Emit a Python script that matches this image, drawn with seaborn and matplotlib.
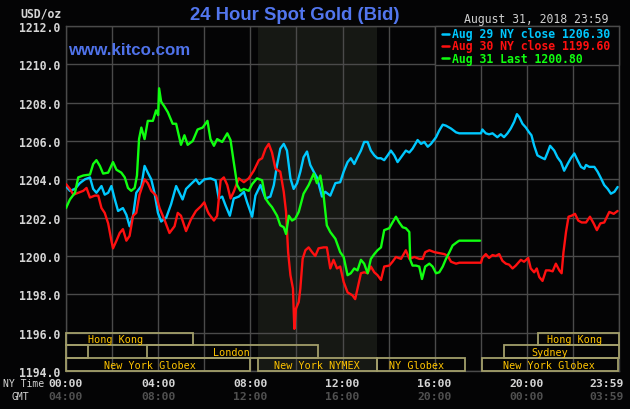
import numpy as np
import pandas as pd
import matplotlib
matplotlib.use("Agg")
import matplotlib.pyplot as plt
import seaborn as sns
from matplotlib.patches import Rectangle
from matplotlib.lines import Line2D
from matplotlib.transforms import blended_transform_factory

# ---------------- data (NY time in hours, price USD/oz) ----------------
aug29 = [
    (0.00, 1203.65), (0.17, 1203.4), (0.39, 1203.5), (0.60, 1203.8), (0.82, 1204.0),
    (1.04, 1204.1), (1.18, 1203.5), (1.32, 1203.3), (1.54, 1203.65), (1.68, 1203.2),
    (1.83, 1203.3), (1.97, 1203.65), (2.12, 1202.95), (2.26, 1202.35), (2.47, 1202.5),
    (2.62, 1202.15), (2.76, 1201.55), (2.91, 1202.1), (3.05, 1203.3), (3.27, 1203.65),
    (3.41, 1204.7), (3.55, 1204.35), (3.70, 1204.0), (3.84, 1203.3), (3.99, 1202.25),
    (4.13, 1201.8), (4.35, 1202.0), (4.56, 1202.7), (4.78, 1203.65), (4.92, 1203.3),
    (5.06, 1202.95), (5.21, 1203.5), (5.42, 1203.75), (5.64, 1204.0), (5.78, 1203.75),
    (6.00, 1204.0), (6.27, 1204.05), (6.49, 1203.95), (6.63, 1203.0), (6.78, 1203.1),
    (6.92, 1202.65), (7.11, 1202.1), (7.28, 1203.0), (7.50, 1203.1), (7.72, 1203.35),
    (7.86, 1202.8), (8.08, 1202.05), (8.22, 1203.15), (8.44, 1203.7), (8.66, 1203.0),
    (8.87, 1203.1), (9.02, 1203.7), (9.16, 1204.75), (9.30, 1205.6), (9.45, 1205.85),
    (9.59, 1205.5), (9.74, 1204.05), (9.88, 1203.5), (10.03, 1203.8), (10.17, 1204.4),
    (10.31, 1205.15), (10.46, 1205.45), (10.60, 1204.75), (10.75, 1204.4), (10.89, 1204.1),
    (11.11, 1203.1), (11.25, 1203.35), (11.47, 1203.15), (11.69, 1203.8), (11.90, 1203.85),
    (12.05, 1204.4), (12.22, 1204.9), (12.36, 1205.1), (12.51, 1204.8), (12.65, 1205.15),
    (12.80, 1205.5), (12.94, 1205.95), (13.09, 1205.95), (13.23, 1205.5), (13.38, 1205.25),
    (13.52, 1205.1), (13.67, 1205.1), (13.81, 1205.0), (13.96, 1205.25), (14.10, 1205.5),
    (14.25, 1205.25), (14.39, 1204.9), (14.54, 1205.15), (14.75, 1205.5), (14.90, 1205.4),
    (15.04, 1205.6), (15.26, 1206.05), (15.41, 1205.85), (15.55, 1205.95), (15.70, 1205.7),
    (15.84, 1205.85), (16.06, 1206.2), (16.20, 1206.55), (16.35, 1206.85), (16.49, 1206.8),
    (16.71, 1206.65), (16.93, 1206.45), (17.07, 1206.4), (18.01, 1206.4), (18.07, 1206.6),
    (18.22, 1206.4), (18.36, 1206.35), (18.51, 1206.4), (18.72, 1206.2), (18.87, 1206.35),
    (19.01, 1206.2), (19.16, 1206.4), (19.30, 1206.65), (19.45, 1207.0), (19.57, 1207.4),
    (19.67, 1207.25), (19.81, 1206.9), (19.96, 1206.7), (20.10, 1206.45), (20.20, 1206.3),
    (20.32, 1205.75), (20.46, 1205.25), (20.61, 1205.15), (20.78, 1205.05), (20.90, 1205.4),
    (21.01, 1205.75), (21.19, 1205.5), (21.33, 1205.15), (21.48, 1204.9), (21.62, 1204.45),
    (21.77, 1204.8), (21.91, 1205.1), (22.06, 1205.35), (22.20, 1205.0), (22.35, 1204.65),
    (22.49, 1204.55), (22.57, 1204.75), (22.71, 1204.65), (22.93, 1204.65), (23.07, 1204.4),
    (23.22, 1204.05), (23.36, 1203.7), (23.51, 1203.5), (23.65, 1203.25), (23.80, 1203.35),
    (23.94, 1203.6),
]

aug30 = [
    (0.00, 1203.75), (0.17, 1203.5), (0.32, 1203.2), (0.53, 1203.3), (0.75, 1203.4),
    (0.89, 1203.55), (1.04, 1203.05), (1.25, 1203.15), (1.40, 1203.15), (1.54, 1202.5),
    (1.68, 1202.25), (1.83, 1201.7), (1.97, 1200.8), (2.04, 1200.4), (2.19, 1200.8),
    (2.33, 1201.2), (2.47, 1201.4), (2.62, 1200.8), (2.76, 1201.05), (2.91, 1202.1),
    (3.05, 1202.25), (3.19, 1203.2), (3.41, 1204.0), (3.55, 1203.8), (3.70, 1203.4),
    (3.91, 1203.15), (4.06, 1202.5), (4.27, 1201.9), (4.49, 1201.2), (4.71, 1201.55),
    (4.85, 1202.25), (4.99, 1202.1), (5.21, 1201.3), (5.42, 1201.9), (5.64, 1202.35),
    (5.86, 1202.6), (6.00, 1202.8), (6.14, 1202.35), (6.20, 1202.2), (6.42, 1201.85),
    (6.56, 1202.1), (6.71, 1203.95), (6.85, 1204.1), (7.00, 1203.7), (7.14, 1203.0),
    (7.28, 1203.35), (7.50, 1204.05), (7.72, 1203.85), (7.93, 1204.05), (8.15, 1204.45),
    (8.37, 1205.0), (8.51, 1205.1), (8.66, 1205.6), (8.80, 1205.85), (8.94, 1205.4),
    (9.09, 1204.55), (9.30, 1204.4), (9.45, 1203.35), (9.55, 1202.3), (9.64, 1200.2),
    (9.74, 1199.0), (9.85, 1198.3), (9.91, 1196.2), (9.98, 1197.25), (10.10, 1197.6),
    (10.17, 1198.3), (10.27, 1199.85), (10.39, 1200.3), (10.53, 1200.45), (10.68, 1200.2),
    (10.82, 1200.0), (10.96, 1200.4), (11.18, 1200.45), (11.32, 1200.45), (11.47, 1199.35),
    (11.61, 1199.8), (11.76, 1199.35), (11.90, 1199.45), (12.05, 1198.65), (12.22, 1198.1),
    (12.43, 1197.95), (12.55, 1197.75), (12.65, 1198.3), (12.80, 1199.1), (12.94, 1199.15),
    (13.09, 1199.1), (13.23, 1199.45), (13.38, 1199.15), (13.52, 1199.0), (13.67, 1198.75),
    (13.81, 1199.45), (14.03, 1199.5), (14.17, 1199.7), (14.32, 1199.95), (14.54, 1199.85),
    (14.75, 1200.3), (14.90, 1199.85), (15.12, 1199.95), (15.33, 1199.85), (15.48, 1199.85),
    (15.59, 1200.2), (15.77, 1200.3), (15.99, 1200.2), (16.20, 1200.15), (16.42, 1200.1),
    (16.57, 1200.0), (16.71, 1199.7), (16.93, 1199.6), (17.07, 1199.65), (18.01, 1199.65),
    (18.07, 1199.9), (18.22, 1200.1), (18.36, 1199.9), (18.51, 1200.05), (18.65, 1200.0),
    (18.80, 1200.1), (18.94, 1199.75), (19.09, 1199.6), (19.23, 1199.55), (19.38, 1199.35),
    (19.52, 1199.5), (19.74, 1199.8), (19.88, 1199.7), (20.06, 1199.9), (20.17, 1199.35),
    (20.32, 1199.15), (20.43, 1199.35), (20.54, 1198.9), (20.68, 1198.7), (20.83, 1199.25),
    (20.97, 1199.25), (21.12, 1199.2), (21.26, 1199.6), (21.41, 1199.25), (21.51, 1199.1),
    (21.59, 1200.2), (21.70, 1201.25), (21.81, 1202.05), (21.94, 1202.1), (22.09, 1202.2),
    (22.23, 1201.85), (22.38, 1201.75), (22.57, 1201.75), (22.74, 1202.05), (22.90, 1201.7),
    (23.04, 1201.35), (23.19, 1201.7), (23.36, 1201.75), (23.58, 1202.3), (23.77, 1202.2),
    (23.94, 1202.35),
]

aug31 = [
    (0.00, 1202.5), (0.17, 1202.95), (0.39, 1203.3), (0.53, 1204.1), (0.75, 1204.2),
    (1.04, 1204.25), (1.18, 1204.8), (1.32, 1205.0), (1.47, 1204.7), (1.61, 1204.3),
    (1.83, 1204.35), (2.04, 1204.9), (2.19, 1204.5), (2.40, 1204.35), (2.55, 1204.1),
    (2.69, 1203.55), (2.83, 1203.4), (2.98, 1203.55), (3.08, 1204.2), (3.17, 1206.1),
    (3.27, 1206.7), (3.41, 1206.1), (3.55, 1207.05), (3.77, 1207.05), (3.91, 1207.6),
    (4.00, 1207.35), (4.04, 1208.75), (4.13, 1208.05), (4.27, 1207.8), (4.42, 1207.5),
    (4.63, 1206.9), (4.78, 1206.9), (4.99, 1205.8), (5.14, 1206.3), (5.28, 1205.8),
    (5.50, 1206.0), (5.71, 1206.6), (5.93, 1206.7), (6.14, 1207.05), (6.27, 1206.1),
    (6.42, 1205.75), (6.56, 1206.1), (6.78, 1205.95), (7.00, 1206.4), (7.14, 1206.05),
    (7.28, 1204.9), (7.43, 1203.7), (7.57, 1203.4), (7.72, 1203.5), (7.93, 1203.4),
    (8.08, 1203.75), (8.29, 1204.05), (8.51, 1203.95), (8.66, 1203.0), (8.80, 1202.75),
    (8.94, 1202.55), (9.16, 1202.1), (9.30, 1201.6), (9.45, 1201.5), (9.55, 1201.15),
    (9.67, 1202.1), (9.81, 1201.85), (9.95, 1201.95), (10.10, 1202.3), (10.31, 1203.25),
    (10.53, 1203.7), (10.75, 1204.3), (10.89, 1203.8), (11.04, 1204.2), (11.18, 1203.15),
    (11.32, 1201.6), (11.47, 1201.25), (11.69, 1200.9), (11.90, 1200.2), (12.05, 1199.95),
    (12.22, 1199.0), (12.36, 1199.1), (12.51, 1199.35), (12.65, 1199.25), (12.80, 1199.8),
    (12.94, 1199.6), (13.09, 1199.1), (13.23, 1199.85), (13.38, 1200.1), (13.52, 1200.3),
    (13.67, 1200.45), (13.81, 1201.35), (14.03, 1201.45), (14.17, 1201.75), (14.32, 1202.05),
    (14.46, 1201.75), (14.61, 1201.5), (14.75, 1201.45), (14.90, 1201.25), (14.94, 1199.8),
    (15.04, 1199.5), (15.19, 1199.5), (15.33, 1199.45), (15.45, 1198.8), (15.59, 1199.45),
    (15.77, 1199.6), (15.91, 1199.45), (16.06, 1199.1), (16.20, 1199.15), (16.35, 1199.45),
    (16.49, 1199.85), (16.64, 1200.2), (16.78, 1200.55), (17.00, 1200.75), (17.07, 1200.8),
    (17.97, 1200.8),
]

series_names = ["Aug 29", "Aug 30", "Aug 31"]
series_colors = ["#00c8ff", "#ff1010", "#10ff10"]
legend_labels = ["Aug 29 NY close 1206.30", "Aug 30 NY close 1199.60", "Aug 31 Last 1200.80"]

y_ticks = [1194, 1196, 1198, 1200, 1202, 1204, 1206, 1208, 1210, 1212]
ny_time_hours = [0, 4, 8, 12, 16, 20, 23.48]
ny_time_labels = ["00:00", "04:00", "08:00", "12:00", "16:00", "20:00", "23:59"]
gmt_labels = ["04:00", "08:00", "12:00", "16:00", "20:00", "00:00", "03:59"]

# trading sessions: name, start hour, end hour, row (0 = top), label hour
session_names = ["Hong Kong", "", "London", "New York Globex", "New York NYMEX",
                 "NY Globex", "New York Globex", "Sydney", "Hong Kong"]
session_start = [0.0, 0.0, 3.5, 0.0, 8.33, 13.5, 18.05, 19.0, 20.5]
session_end = [5.5, 0.95, 10.95, 8.0, 13.5, 17.33, 23.95, 24.0, 24.0]
session_row = [0, 1, 1, 2, 2, 2, 2, 1, 0]
session_label_at = [2.13, None, 7.17, 3.65, 10.9, 15.2, 20.98, 20.98, 22.06]
nymex_span = (8.33, 13.5)

# ---------------- styling ----------------
W, H = 630, 410
BG = "#040405"
GRID = "#4a4a4a"
sns.set_style("dark", {"axes.facecolor": BG, "figure.facecolor": BG})
plt.rcParams["font.family"] = ["DejaVu Sans Mono", "DejaVu Sans"]

fig = plt.figure(figsize=(W / 100, H / 100), dpi=100, facecolor=BG)
L, R, T, B = 66, 619, 27, 372
ax = fig.add_axes([L / W, 1 - B / H, (R - L) / W, (B - T) / H])
ax.set_facecolor(BG)

frames = []
for name, pts in zip(series_names, [aug29, aug30, aug31]):
    d = pd.DataFrame(pts, columns=["hour", "price"])
    d["series"] = name
    frames.append(d)
df = pd.concat(frames, ignore_index=True)

sns.lineplot(data=df, x="hour", y="price", hue="series",
             palette=dict(zip(series_names, series_colors)),
             estimator=None, sort=False, linewidth=1.7, legend=False, ax=ax, zorder=3)

ax.axvspan(*nymex_span, color="#161814", zorder=0.2, lw=0)
ax.set_xlim(0, 24)
ax.set_ylim(1194, 1212)
ax.set_xticks(np.arange(0, 25, 2))
ax.set_xticklabels([])
ax.set_yticks(y_ticks)
ax.set_yticklabels([f"{v:.1f}" for v in y_ticks])
ax.set_axisbelow(True)
ax.grid(True, color=GRID, lw=1.0, zorder=0.5)
ax.tick_params(axis="both", length=0)
ax.tick_params(axis="y", pad=4, labelsize=8.3, labelcolor="#d6d6d6")
for lab in ax.get_yticklabels():
    lab.set_fontweight("bold")
for s in ax.spines.values():
    s.set_color(GRID)
    s.set_linewidth(1.0)
ax.set_xlabel("")
ax.set_ylabel("")

# session boxes
row_h = 2.0 / 3.0
box_col = "#a29e6a"
for name, s, e, r, lx in zip(session_names, session_start, session_end, session_row, session_label_at):
    y0 = 1196 - (r + 1) * row_h
    ax.add_patch(Rectangle((s, y0), e - s, row_h, fill=False, edgecolor=box_col,
                           lw=1.3, zorder=4, clip_on=False))
    if name and lx is not None:
        ax.text(lx, y0 + row_h / 2, name, ha="center", va="center", fontsize=7.3,
                color="#ffc400", zorder=5)

# x axis time labels
bt = blended_transform_factory(ax.transData, fig.transFigure)
for h, a, g in zip(ny_time_hours, ny_time_labels, gmt_labels):
    fig.text(h, 1 - 384 / H, a, transform=bt, ha="center", va="center",
             fontsize=8.2, fontweight="bold", color="#d6d6d6")
    fig.text(h, 1 - 397 / H, g, transform=bt, ha="center", va="center",
             fontsize=8.2, fontweight="bold", color="#505050")
fig.text(3 / W, 1 - 384 / H, "NY Time", ha="left", va="center", fontsize=7.0, color="#d6d6d6")
fig.text(11 / W, 1 - 397 / H, "GMT", ha="left", va="center", fontsize=7.0, color="#d6d6d6")

# header texts
fig.text(62 / W, 1 - 14 / H, "USD/oz", ha="right", va="center", fontsize=8.3,
         fontweight="bold", color="#d6d6d6")
fig.text(295 / W, 1 - 16 / H, "24 Hour Spot Gold (Bid)", ha="center", va="center",
         fontsize=13.3, fontweight="bold", color="#5276ee", family=["Liberation Sans"])
fig.text(68 / W, 1 - 55 / H, "www.kitco.com", ha="left", va="baseline",
         fontsize=12.2, fontweight="bold", color="#4f72ea", family=["Liberation Sans"])
fig.text(608 / W, 1 - 19 / H, "August 31, 2018 23:59", ha="right", va="center",
         fontsize=8.3, color="#d0d0d0")

# legend box
ax.add_patch(Rectangle((435 / W, 1 - 66 / H), (619 - 435) / W, (66 - 27) / H,
                       transform=fig.transFigure, facecolor=BG, edgecolor=GRID,
                       lw=1.0, zorder=6, clip_on=False))
for i, (lab, col) in enumerate(zip(legend_labels, series_colors)):
    yy = 1 - (34.5 + 12.3 * i) / H
    ax.add_line(Line2D([442.5 / W, 448.5 / W], [yy, yy], transform=fig.transFigure,
                       color=col, lw=1.8, zorder=7, clip_on=False))
    ax.text(452 / W, yy, lab, transform=fig.transFigure, ha="left", va="center",
            fontsize=8.3, fontweight="bold", color=col, zorder=7, clip_on=False)

fig.savefig("out.png", dpi=100, facecolor=BG)
